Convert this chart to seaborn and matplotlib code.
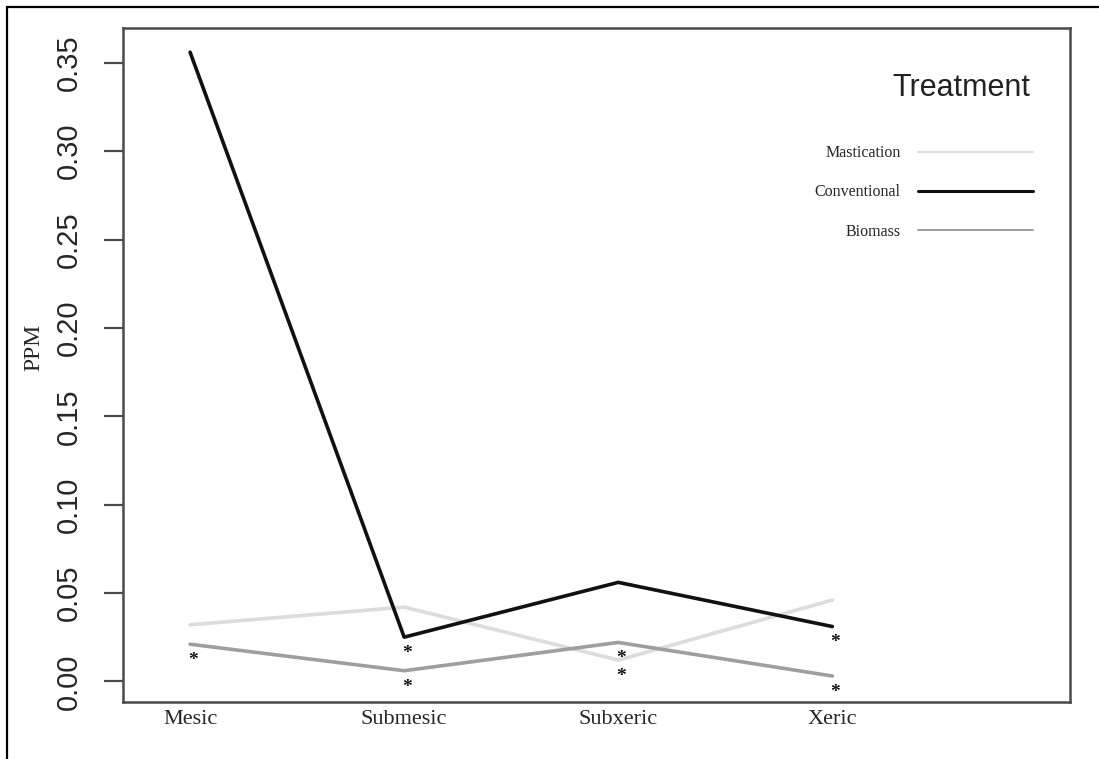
import matplotlib
matplotlib.use("Agg")
import matplotlib.pyplot as plt
from matplotlib.patches import Rectangle
import pandas as pd
import seaborn as sns

# Site moisture classes along the x axis
sites = ["Mesic", "Submesic", "Subxeric", "Xeric"]

# Mean concentration (PPM) for each treatment
mastication = [0.032, 0.042, 0.012, 0.046]
conventional = [0.356, 0.025, 0.056, 0.031]
biomass = [0.021, 0.006, 0.022, 0.003]

treatments = ["Mastication", "Conventional", "Biomass"]
colors = {"Mastication": "#dcdcdc", "Conventional": "#111111", "Biomass": "#9e9e9e"}

# Significant differences flagged with an asterisk under the line
flags = [
    ("Mesic", "Biomass"),
    ("Submesic", "Conventional"),
    ("Submesic", "Biomass"),
    ("Subxeric", "Biomass"),
    ("Subxeric", "Mastication"),
    ("Xeric", "Conventional"),
    ("Xeric", "Biomass"),
]

yticks = [0.00, 0.05, 0.10, 0.15, 0.20, 0.25, 0.30, 0.35]

series = {"Mastication": mastication, "Conventional": conventional, "Biomass": biomass}
df = pd.DataFrame(
    [(s, t, v) for t in treatments for s, v in zip(sites, series[t])],
    columns=["Site", "Treatment", "PPM"],
)
df["pos"] = df["Site"].map({s: i for i, s in enumerate(sites)})

sns.set_style("white")
plt.rcParams["font.family"] = ["Liberation Sans", "DejaVu Sans"]
SERIF = ["Liberation Serif", "DejaVu Serif"]

fig = plt.figure(figsize=(10.99, 7.59), dpi=100)
ax = fig.add_axes([0.1122, 0.0751, 0.8614, 0.888])

sns.lineplot(
    data=df, x="pos", y="PPM", hue="Treatment", hue_order=treatments,
    palette=colors, linewidth=2.6, sort=False, legend=False, ax=ax,
)

for site, trt in flags:
    i = sites.index(site)
    v = series[trt][i]
    ax.annotate("*", xy=(i, v), xytext=(2, -15), textcoords="offset points",
                ha="center", va="baseline", fontsize=14, family=SERIF,
                color="#111111", fontweight="bold")

ax.set_xlim(-0.312, 4.11)
ax.set_ylim(-0.0117, 0.3697)
ax.set_xticks(range(len(sites)))
ax.set_xticklabels(sites, family=SERIF, fontsize=16)
ax.set_yticks(yticks)
ax.set_yticklabels([f"{t:.2f}" for t in yticks], fontsize=21, rotation=90, va="center")
ax.tick_params(axis="x", length=0, pad=6)
ax.tick_params(axis="y", length=14, width=1.6, color="#4a4a4a", pad=15, left=True)
ax.set_xlabel("")
ax.set_ylabel("")
for sp in ax.spines.values():
    sp.set_color("#4a4a4a")
    sp.set_linewidth(1.8)

fig.text(34 / 1099, 1 - 347 / 759, "PPM", rotation=90, family=SERIF, fontsize=17,
         ha="center", va="center")

# Legend: title on top, labels to the left of their line samples
handles = [plt.Line2D([], [], color=colors["Mastication"], lw=1.6),
           plt.Line2D([], [], color=colors["Conventional"], lw=2.2),
           plt.Line2D([], [], color=colors["Biomass"], lw=1.4)]
leg = ax.legend(handles, treatments, loc="upper right", bbox_to_anchor=(0.961, 0.826),
                frameon=False, markerfirst=False, borderpad=0, borderaxespad=0,
                handlelength=7.2, handletextpad=1.1, labelspacing=1.45,
                prop={"family": SERIF, "size": 11.5})
ax.text(0.958, 0.911, "Treatment", transform=ax.transAxes, ha="right", va="center",
        fontsize=22, color="#222222")

# Outer frame around the figure
top = 1 - 7 / 759
fig.add_artist(Rectangle((7 / 1099, -0.2), 1.3, top + 0.2, transform=fig.transFigure,
                         fill=False, edgecolor="black", linewidth=1.6, clip_on=False))

fig.savefig("out.png", dpi=100)
